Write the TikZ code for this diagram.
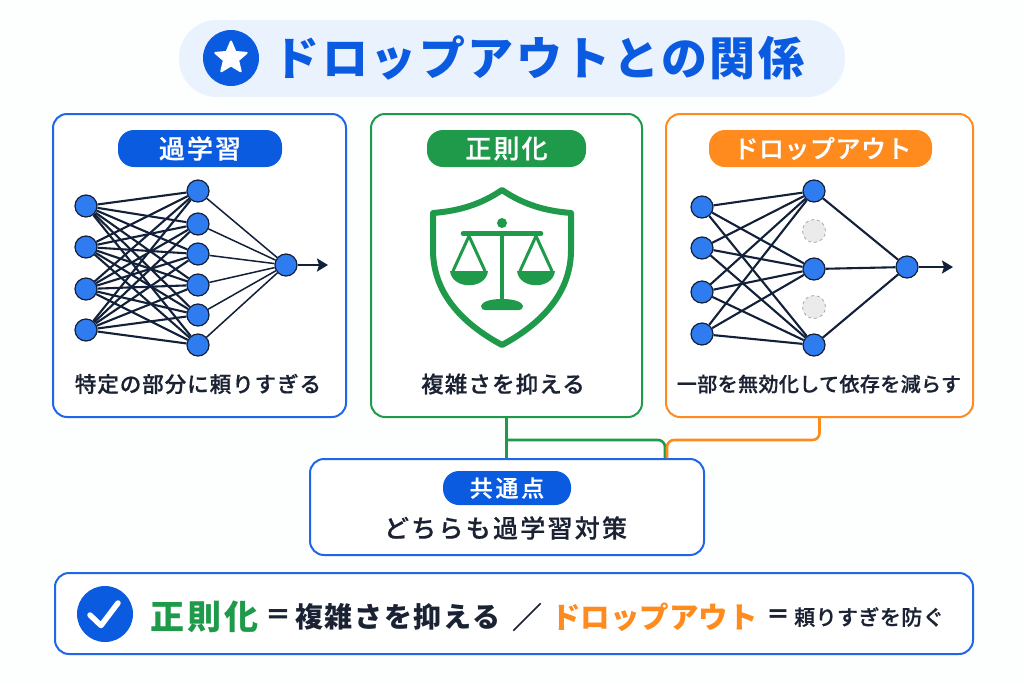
\documentclass[tikz,border=0pt]{standalone}
\usepackage{fontspec}
\usetikzlibrary{arrows.meta,shapes.geometric}
\setmainfont{Noto Sans CJK JP}
\newfontfamily\cjk{Noto Sans CJK JP}
\newfontfamily\cjkm[FakeBold=0.6]{Noto Sans CJK JP Medium}
\newcommand\jt[3]{\fontsize{#1}{#1}\cjk\bfseries\addfontfeature{LetterSpace=#2}#3}
\newcommand\jm[3]{\fontsize{#1}{#1}\cjkm\addfontfeature{LetterSpace=#2}#3}
\definecolor{bluem}{HTML}{0B5BE0}
\definecolor{blueb}{HTML}{1F66E8}
\definecolor{nodeb}{HTML}{2F7BF0}
\definecolor{greenm}{HTML}{1F9A4A}
\definecolor{orangem}{HTML}{FF8A1E}
\definecolor{navy}{HTML}{12203A}
\definecolor{ink}{HTML}{1A2233}
\definecolor{paleb}{HTML}{EAF2FD}
\definecolor{ghost}{HTML}{EBEBEB}
\definecolor{ghostl}{HTML}{A8A8A8}
\definecolor{bg}{HTML}{FDFEFE}
\tikzset{
  panel/.style={draw=#1,line width=2pt,fill=white,rounded corners=14pt,inner sep=0pt},
  pill/.style={fill=#1,rounded corners=16pt,inner sep=0pt,text=white},
  nn/.style={circle,draw=navy,fill=nodeb,line width=1.2pt,minimum size=22pt,inner sep=0pt},
  gn/.style={circle,draw=ghostl,dashed,fill=ghost,line width=.8pt,minimum size=23pt,inner sep=0pt},
  edge/.style={navy,line width=2.1pt},
  lab/.style={text=ink,inner sep=0pt},
  link/.style={line width=2.6pt,rounded corners=7pt},
  sc/.style={greenm,line width=3.5pt,line cap=round}
}
\begin{document}
\begin{tikzpicture}[x=1pt,y=-1pt]
\useasboundingbox (0,0) rectangle (1024,683);
\fill[bg] (0,0) rectangle (1024,683);
% title
\node[fill=paleb,rounded corners=38pt,minimum width=666pt,minimum height=77pt,inner sep=0pt] (titlebar) at (512,58.5) {};
\node[circle,fill=bluem,minimum size=56pt,inner sep=0pt] (staricon) at (231,58) {};
\node[star,star points=5,star point ratio=2.2,fill=white,draw=white,line join=round,line width=2pt,minimum size=33pt,inner sep=0pt] (starshape) at (231,58) {};
\node[text=bluem,inner sep=0pt] (title) at (539,58) {\jt{46}{5.4}{ドロップアウトとの関係}};
% connectors (under the panels)
\node[panel=blueb,minimum width=293pt,minimum height=303pt] (over) at (199.5,265.5) {};
\node[panel=greenm,minimum width=271pt,minimum height=303pt] (reg) at (506.5,265.5) {};
\node[panel=orangem,minimum width=307pt,minimum height=303pt] (drop) at (819.5,265.5) {};
\node[panel=blueb,minimum width=394pt,minimum height=96pt] (common) at (507,507) {};
\coordinate (jg) at (665,440);
\coordinate (jo) at (667,440);
\draw[link,greenm] (reg.south) -- (reg.south |- common.north);
\draw[link,greenm] (reg.south |- jg) -- (jg) -- (jg |- common.north);
\draw[link,orangem] (drop.south) -- (drop.south |- jo) -- (jo) -- (jo |- common.north);
% pills
\node[pill=bluem,minimum width=164pt,minimum height=37pt] (p1) at (200,148.5) {\jm{26}{8}{過学習}};
\node[pill=greenm,minimum width=159pt,minimum height=37pt] (p2) at (506.5,148.5) {\jm{26}{8}{正則化}};
\node[pill=orangem,minimum width=223pt,minimum height=37pt] (p3) at (820.5,148.5) {\hspace*{4pt}\jm{25}{2}{ドロップアウト}};
\node[pill=bluem,minimum width=128pt,minimum height=34pt] (p4) at (507,488) {\jm{23}{12}{共通点}};
% network 1
\foreach \i/\y in {1/206,2/247,3/289,4/330} \node[nn] (a\i) at (86,\y) {};
\foreach \i/\y in {1/191,2/224,3/254,4/285,5/315,6/345} \node[nn] (b\i) at (198,\y) {};
\node[nn] (c) at (286,265) {};
\coordinate (cend) at (328,265);
\foreach \i in {1,...,4} \foreach \j in {1,...,6} \draw[edge] (a\i) -- (b\j);
\foreach \j in {1,...,6} \draw[edge,line width=1.5pt] (b\j) -- (c);
\draw[edge,line width=2.4pt,-{Stealth[length=11pt,width=13pt,inset=2pt]}] (c) -- (cend);
\node[lab] (t1) at (198,384) {\jm{21.5}{4.5}{特定の部分に頼りすぎる}};
% shield
\draw[greenm,line width=6pt,line join=round,fill=white] (502,190)
  .. controls (480,205) and (458,211) .. (433,213) -- (433,250)
  .. controls (433,295) and (465,325) .. (502,345)
  .. controls (539,325) and (571,295) .. (571,250) -- (571,213)
  .. controls (546,211) and (524,205) .. (502,190) -- cycle;
\fill[greenm] (502,223) circle (5);
\draw[sc,line width=4.5pt] (463,233.5) -- (541,233.5);
\draw[sc,line width=4.5pt] (502,233) -- (502,304);
\fill[greenm] (481,306) .. controls (483,300) and (495,299) .. (502,299) .. controls (509,299) and (521,300) .. (523,306) .. controls (523,309) and (521,310) .. (519,310) -- (485,310) .. controls (483,310) and (481,309) .. cycle;
\draw[sc,line width=3pt] (453,271) -- (469,236) -- (485,271);
\draw[sc,line width=3pt] (520,271) -- (536,236) -- (552,271);
\fill[greenm] (450,271) -- (488,271) .. controls (486,290) and (452,290) .. (450,271) -- cycle;
\fill[greenm] (517,271) -- (555,271) .. controls (553,290) and (519,290) .. (517,271) -- cycle;
\node[lab] (t2) at (503,384) {\jm{22.5}{5}{複雑さを抑える}};
% network 2
\foreach \i/\y in {1/207,2/248,3/292,4/334} \node[nn] (d\i) at (702,\y) {};
\foreach \i/\y in {1/191,2/269,3/345} \node[nn] (e\i) at (814,\y) {};
\node[gn] (g1) at (814,231) {};
\node[gn] (g2) at (814,307) {};
\node[nn] (f) at (907,267) {};
\coordinate (fend) at (953,267);
\foreach \i in {1,...,4} \foreach \j in {1,2,3} \draw[edge] (d\i) -- (e\j);
\foreach \j in {1,2,3} \draw[edge] (e\j) -- (f);
\draw[edge,line width=2.4pt,-{Stealth[length=11pt,width=13pt,inset=2pt]}] (f) -- (fend);
\node[lab] (t3) at (819,384) {\jm{20}{2}{一部を無効化して依存を減らす}};
% common
\node[lab] (t4) at (505.5,528) {\jm{25}{9}{どちらも過学習対策}};
% bottom bar
\node[panel=blueb,minimum width=918pt,minimum height=81pt] (bar) at (514,613.5) {};
\node[circle,fill=bluem,minimum size=56pt,inner sep=0pt] (chk) at (105,614) {};
\coordinate (c1) at (90,615);
\coordinate (c2) at (101,625.5);
\coordinate (c3) at (118,603);
\draw[white,line width=5.5pt,line cap=round,line join=round] (c1) -- (c2) -- (c3);
\node[inner sep=0pt,anchor=west,text=greenm] (s1) at (150,617) {\jt{34}{9}{正則化}};
\node[lab,anchor=center] (s2a) at (278,617) {\jt{26}{0}{＝}};
\node[lab,anchor=west] (s2) at (295,617) {\jt{28}{6}{複雑さを抑える}};
\node[lab,anchor=center] (s3) at (527,617) {\jm{30}{0}{／}};
\node[inner sep=0pt,anchor=west,text=orangem] (s4) at (551,617) {\jt{29.5}{0}{ドロップアウト}};
\node[lab,anchor=center] (s5) at (778,617) {\jt{24}{0}{＝}};
\node[lab,anchor=west] (s6) at (794,617) {\jm{21}{2}{頼りすぎを防ぐ}};
\end{tikzpicture}
\end{document}
